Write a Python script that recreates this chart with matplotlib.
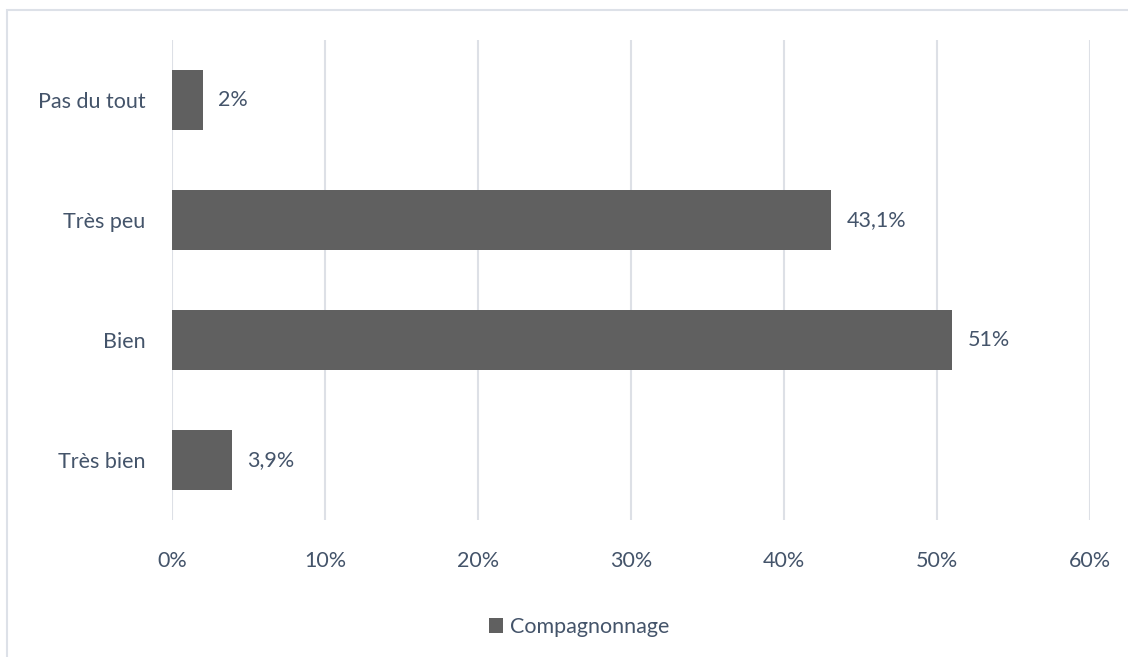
import matplotlib
matplotlib.use("Agg")
import matplotlib.pyplot as plt
from matplotlib.patches import Rectangle
from matplotlib.ticker import FuncFormatter

categories = ["Pas du tout", "Très peu", "Bien", "Très bien"]
values = [2.0, 43.1, 51.0, 3.9]
value_labels = ["2%", "43,1%", "51%", "3,9%"]
series_name = "Compagnonnage"
x_ticks = [0, 10, 20, 30, 40, 50, 60]

text_color = "#44546A"
bar_color = "#606060"
grid_color = "#DDE0E6"

plt.rcParams['font.family'] = ['Lato', 'DejaVu Sans']

W, H = 1128, 657
fig = plt.figure(figsize=(W / 100, H / 100), dpi=100)
fig.patch.set_facecolor("white")

# outer frame (partially cropped)
fig.patches.append(Rectangle((7 / W, -0.05), 1.1, 1 - 10 / H + 0.05, transform=fig.transFigure,
                             fill=False, edgecolor="#DDE1E8", linewidth=1.5, zorder=0))

ax = fig.add_axes([172 / W, 1 - 520 / H, (1090 - 172) / W, (520 - 40) / H])
ypos = list(range(len(categories)))
ax.barh(ypos, values, height=0.5, color=bar_color, label=series_name, zorder=3)
ax.set_ylim(len(categories) - 0.5, -0.5)
ax.set_xlim(0, 60)
ax.set_xticks(x_ticks)
ax.xaxis.set_major_formatter(FuncFormatter(lambda v, p: f"{int(v)}%"))
ax.set_yticks(ypos)
ax.set_yticklabels(categories)
ax.grid(axis="x", color=grid_color, linewidth=1.5, zorder=0)
for s in ax.spines.values():
    s.set_visible(False)
ax.tick_params(axis="both", length=0, colors=text_color, labelsize=15.5)
ax.tick_params(axis="y", pad=19)
ax.tick_params(axis="x", pad=22)

for y, v, lab in zip(ypos, values, value_labels):
    ax.annotate(lab, (v, y), xytext=(15, 0), textcoords="offset pixels",
                va="center", ha="left", color=text_color, fontsize=15.5)

leg = fig.legend(loc="center", bbox_to_anchor=(579 / W, 1 - 627 / H), frameon=False,
                 fontsize=15.5, handlelength=0.65, handleheight=0.65, handletextpad=0.35)
for t in leg.get_texts():
    t.set_color(text_color)

fig.savefig("out.png", dpi=100, facecolor="white")
